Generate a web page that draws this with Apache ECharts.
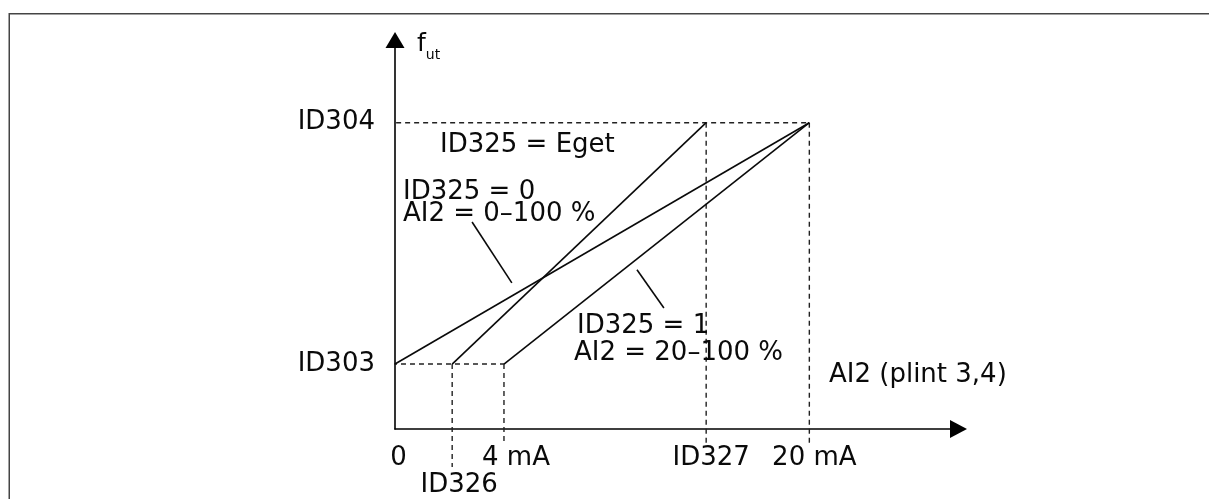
<!DOCTYPE html>
<html>
<head>
<meta charset="utf-8">
<script src="https://cdn.jsdelivr.net/npm/echarts@6/dist/echarts.min.js"></script>
<style>
html,body{margin:0;padding:0;background:#fff;}
#c{width:1209px;height:499px;}
</style>
</head>
<body>
<div id="c"></div>
<script>
// ---- data (schematic units: x 0..100 = 0..20 mA span, y 0..100 = 0..ID304) ----
const xTickValues = [0, 26.3, 75.1, 100];
const xTickLabels = ['0', '4 mA', 'ID327', '20 mA'];
const xTickValuesLow = [13.8];
const xTickLabelsLow = ['ID326'];
const yTickValues = [21.2, 100];
const yTickLabels = ['ID303', 'ID304'];

const lineId325Zero = [[0, 21.2], [100, 100]];
const lineId325Eget = [[13.8, 21.2], [75.1, 100]];
const lineId325One  = [[26.3, 21.2], [100, 100]];

const dashTop   = [[-1.9, 100], [100, 100]];
const dashLow   = [[-2.9, 21.2], [26.3, 21.2]];
const dash326   = [[13.8, 21.2], [13.8, -12.4]];
const dash4mA   = [[26.3, 21.2], [26.3, -4.3]];
const dash327   = [[75.1, 100], [75.1, -4.6]];
const dash20mA  = [[100, 100], [100, -4.6]];

const leaderZero = [[18.6, 67.6], [28.2, 47.7]];
const leaderOne  = [[58.4, 52.0], [64.9, 39.5]];

const annotations = ['ID325 = Eget', 'ID325 = 0', 'AI2 = 0\u2013100 %', 'ID325 = 1', 'AI2 = 20\u2013100 %', 'AI2 (plint 3,4)'];

// ---- chart ----
const FONT = 'Verdana, "DejaVu Sans", sans-serif';
const FS = 26;
const INK = '#0a0a0a';

const chart = echarts.init(document.getElementById('c'), null, {renderer: 'canvas'});

function solid(data) {
  return {type: 'line', data: data, symbol: 'none', silent: true, clip: false,
    lineStyle: {color: INK, width: 1.6}, z: 3};
}
function dashed(data) {
  return {type: 'line', data: data, symbol: 'none', silent: true, clip: false,
    lineStyle: {color: '#222', width: 1.4, type: [5, 4]}, z: 2};
}

const xPad = [7, 24, 10, 10];
const xRich = {};
xTickLabels.forEach(function (l, i) {
  xRich['k' + i] = {fontFamily: FONT, fontSize: FS, color: INK, lineHeight: 26,
    padding: [0, 0, 0, xPad[i]]};
});

const annPos = [
  [440, 145], [403, 192], [403, 214], [577, 326], [574, 353], [829, 375]
];

chart.setOption({
  animation: false,
  backgroundColor: '#fff',
  grid: {left: 395, right: 250.5, top: 40, bottom: 70, containLabel: false},
  xAxis: [{
    type: 'value', min: 0, max: 136,
    axisLine: {show: true, onZero: false, symbol: ['none', 'triangle'], symbolSize: [18, 17],
      lineStyle: {color: '#000', width: 1.6}},
    axisTick: {show: false},
    splitLine: {show: false},
    axisLabel: {
      customValues: xTickValues, margin: 16.5, showMinLabel: true, showMaxLabel: true,
      hideOverlap: false,
      formatter: function (v) {
        const i = xTickValues.indexOf(v);
        return i < 0 ? '' : '{k' + i + '|' + xTickLabels[i] + '}';
      },
      rich: xRich
    }
  }, {
    type: 'value', min: 0, max: 136, position: 'bottom', offset: 0,
    axisLine: {show: false},
    axisTick: {show: false},
    splitLine: {show: false},
    axisLabel: {
      customValues: xTickValuesLow, margin: 43.5, hideOverlap: false,
      formatter: function (v) {
        const i = xTickValuesLow.indexOf(v);
        return i < 0 ? '' : '{k|' + xTickLabelsLow[i] + '}';
      },
      rich: {k: {fontFamily: FONT, fontSize: FS, color: INK, lineHeight: 26, padding: [0, 0, 0, 14]}}
    }
  }],
  yAxis: {
    type: 'value', min: 0, max: 127,
    name: '{f|f}{s|ut}', nameLocation: 'end', nameGap: -4,
    nameTextStyle: {align: 'left', verticalAlign: 'middle', padding: [0, 0, 0, 22],
      rich: {
        f: {fontFamily: FONT, fontSize: 25, color: INK, lineHeight: 36},
        s: {fontFamily: FONT, fontSize: 14, color: INK, lineHeight: 10, verticalAlign: 'bottom'}
      }},
    axisLine: {show: true, onZero: false, symbol: ['none', 'triangle'], symbolSize: [19, 16],
      lineStyle: {color: '#000', width: 1.6}},
    axisTick: {show: false},
    splitLine: {show: false},
    axisLabel: {
      customValues: yTickValues, margin: 20,
      fontFamily: FONT, fontSize: FS, color: INK,
      formatter: function (v) {
        const i = yTickValues.indexOf(v);
        return i < 0 ? '' : yTickLabels[i];
      }
    }
  },
  graphic: [
    {type: 'rect', silent: true, z: 0,
      shape: {x: 9.25, y: 13.75, width: 1500, height: 800},
      style: {fill: 'none', stroke: '#444', lineWidth: 1.5}}
  ].concat(annotations.map(function (t, i) {
    return {type: 'text', silent: true, x: annPos[i][0], y: annPos[i][1], z: 10,
      style: {text: t, fontFamily: FONT, fontSize: FS, fill: INK,
        textAlign: 'left', textVerticalAlign: 'middle', verticalAlign: 'middle'}};
  })),
  series: [
    solid(lineId325Zero), solid(lineId325Eget), solid(lineId325One),
    solid(leaderZero), solid(leaderOne),
    dashed(dashTop), dashed(dashLow), dashed(dash326), dashed(dash4mA),
    dashed(dash327), dashed(dash20mA)
  ]
});
</script>
</body>
</html>
